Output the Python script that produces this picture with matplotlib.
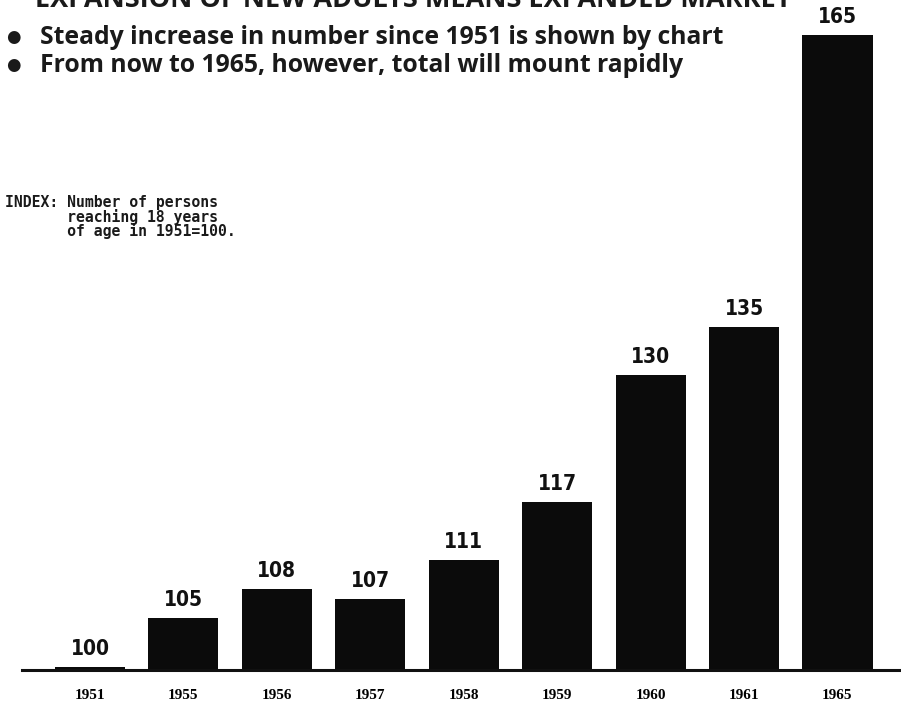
import matplotlib
matplotlib.use("Agg")
import matplotlib.pyplot as plt

years = ["1951", "1955", "1956", "1957", "1958", "1959", "1960", "1961", "1965"]
values = [100, 105, 108, 107, 111, 117, 130, 135, 165]

W, H = 901, 707
fig = plt.figure(figsize=(W / 100, H / 100), dpi=100)
fig.patch.set_facecolor("white")

ax = fig.add_axes([22 / W, 37 / H, 879 / W, 670 / H])
ymin = 99.7
ax.set_ylim(ymin, ymin + 670 / 9.72)
ax.set_xlim(-0.728, 8.68)

x = list(range(len(years)))
ax.bar(x, [v - ymin for v in values], bottom=ymin, width=0.75, color="#0b0b0b")

for xi, v in zip(x, values):
    ax.annotate(str(v), (xi, v), xytext=(0, 6), textcoords="offset points",
                ha="center", va="bottom", fontsize=15, fontweight="bold",
                fontstretch="condensed",
                family=["DejaVu Sans"], color="#111111")

for s in ["top", "right", "left"]:
    ax.spines[s].set_visible(False)
ax.spines["bottom"].set_linewidth(2.2)
ax.spines["bottom"].set_color("#111111")
ax.set_yticks([])
ax.set_xticks(x)
ax.set_xticklabels(years, fontsize=11, fontweight="bold",
                   family=["Liberation Serif", "DejaVu Serif"])
ax.tick_params(axis="x", length=0, pad=14)

# partially cut title at top (cut off in the reference as well)
fig.text(35 / W, 700 / H, "EXPANSION OF NEW ADULTS MEANS EXPANDED MARKET",
         fontsize=19.5, fontweight="bold", family=["Open Sans", "DejaVu Sans"],
         ha="left", va="baseline", color="#1a1a1a")

bullet_lines = ["Steady increase in number since 1951 is shown by chart",
                "From now to 1965, however, total will mount rapidly"]
for i, line in enumerate(bullet_lines):
    yy = 1 - (37 + 28 * i) / H
    fig.text(13 / W, yy, "●", fontsize=12, family=["DejaVu Sans"],
             ha="center", va="center", color="#1a1a1a")
    fig.text(40 / W, yy, line, fontsize=17.8, fontweight="bold",
             family=["Open Sans", "DejaVu Sans"],
             ha="left", va="center", color="#1a1a1a")

fig.text(5 / W, 1 - 217 / H,
         "INDEX: Number of persons\n       reaching 18 years\n       of age in 1951=100.",
         fontsize=10.6, fontweight="bold", family=["DejaVu Sans Mono"],
         ha="left", va="center", color="#1a1a1a", linespacing=0.92)

fig.savefig("out.png", dpi=100, facecolor="white")
